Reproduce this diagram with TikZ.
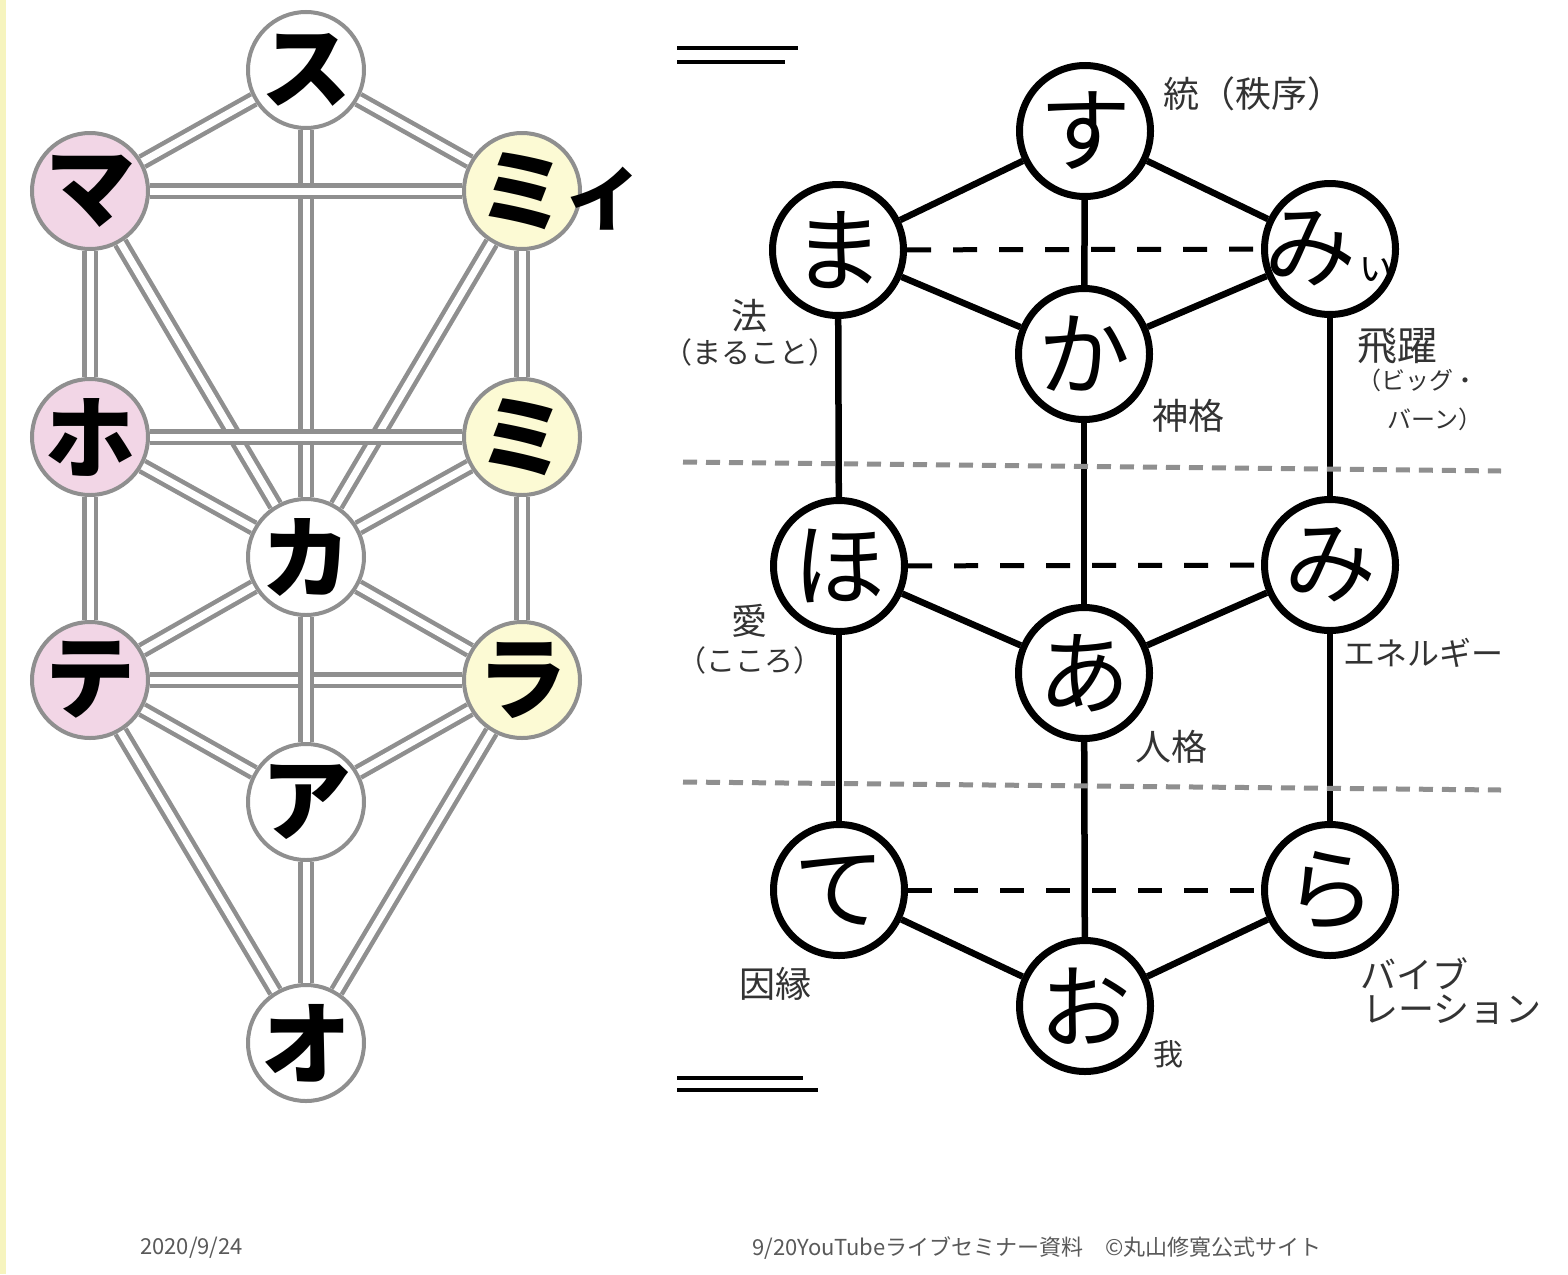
\documentclass[tikz,border=0pt]{standalone}
\usepackage{fontspec}
\usepackage{tikz}
\usetikzlibrary{shapes.geometric, arrows}
\newfontfamily\gothic{Noto Sans CJK JP}
\definecolor{pinkfill}{HTML}{F2D6E6}
\definecolor{yellowfill}{HTML}{FCFAD4}
\definecolor{pipegray}{HTML}{8F8F8F}
\definecolor{notegray}{HTML}{333333}
\definecolor{footgray}{HTML}{595959}
\definecolor{stripe}{HTML}{F6F4BE}

\begin{document}
\begin{tikzpicture}[x=1pt, y=-1pt]
	\tikzstyle{kata} = [circle, minimum size=116pt, inner sep=-10pt, 
	line width=4pt, draw=pipegray, fill=white, text centered, 
	font=\gothic\bfseries\fontsize{90}{90}\selectfont]
	\tikzstyle{kataPink} = [kata, fill=pinkfill]
	\tikzstyle{kataYellow} = [kata, fill=yellowfill]
	\tikzstyle{hira} = [circle, minimum size=131pt, inner sep=-15pt, 
	line width=7pt, draw=black, fill=white, text centered, 
	font=\gothic\fontsize{92}{92}\selectfont]
	\tikzstyle{pipe} = [draw=pipegray, line width=4.5pt, double=white, 
	double distance=7pt]
	\tikzstyle{link} = [draw=black, line width=6.5pt]
	\tikzstyle{hidden link} = [draw=black, line width=5pt, 
	dash pattern=on 24pt off 22pt]
	\tikzstyle{layerLine} = [draw=pipegray, line width=5pt, 
	dash pattern=on 14pt off 9pt]
	\tikzstyle{barline} = [draw=black, line width=4pt]
	\tikzstyle{note} = [text=notegray, inner sep=0pt, 
	font=\gothic\fontsize{36}{36}\selectfont]
	\tikzstyle{sub note} = [note, font=\gothic\fontsize{29}{29}\selectfont]
	\tikzstyle{tiny note} = [note, font=\gothic\fontsize{24}{24}\selectfont]
	\tikzstyle{foot} = [text=footgray, inner sep=0pt, anchor=west, 
	font=\gothic\fontsize{22}{22}\selectfont]
	\useasboundingbox (0,0) rectangle (1568,1274);
	\fill [white] (0,0) rectangle (1568,1274);
	\fill [stripe] (0,0) rectangle (6,1274);
	% katakana tree
	\node (kataSu) [kata] at (306,70) {ス};
	\node (kataMa) [kataPink] at (90,191) {マ};
	\node (kataMi) [kataYellow] at (522,191) {ミ};
	\node (kataHo) [kataPink] at (90,437) {ホ};
	\node (kataMi2) [kataYellow] at (522,437) {ミ};
	\node (kataKa) [kata] at (306,557) {カ};
	\node (kataTe) [kataPink] at (90,680) {テ};
	\node (kataRa) [kataYellow] at (522,680) {ラ};
	\node (kataA) [kata] at (306,802) {ア};
	\node (kataO) [kata] at (306,1043) {オ};
	\node (kataI) [inner sep=0pt, font=\gothic\bfseries\fontsize{72}{72}\selectfont] 
	at (603,199) {イ};
	\draw [pipe] (kataSu) -- (kataMa);
	\draw [pipe] (kataSu) -- (kataMi);
	\draw [pipe] (kataSu) -- (kataKa);
	\draw [pipe] (kataMa) -- (kataMi);
	\draw [pipe] (kataMa) -- (kataHo);
	\draw [pipe] (kataMi) -- (kataMi2);
	\draw [pipe] (kataMa) -- (kataKa);
	\draw [pipe] (kataMi) -- (kataKa);
	\draw [pipe] (kataHo) -- (kataMi2);
	\draw [pipe] (kataHo) -- (kataKa);
	\draw [pipe] (kataMi2) -- (kataKa);
	\draw [pipe] (kataHo) -- (kataTe);
	\draw [pipe] (kataMi2) -- (kataRa);
	\draw [pipe] (kataKa) -- (kataTe);
	\draw [pipe] (kataKa) -- (kataRa);
	\draw [pipe] (kataTe) -- (kataRa);
	\draw [pipe] (kataKa) -- (kataA);
	\draw [pipe] (kataTe) -- (kataA);
	\draw [pipe] (kataRa) -- (kataA);
	\draw [pipe] (kataTe) -- (kataO);
	\draw [pipe] (kataRa) -- (kataO);
	\draw [pipe] (kataA) -- (kataO);
	% hiragana tree
	\node (hiraSu) [hira] at (1085,131) {す};
	\node (hiraMa) [hira] at (838,250) {ま};
	\node (hiraMi) [hira] at (1330,249) {み{\fontsize{40}{40}\selectfont ぃ}};
	\node (hiraKa) [hira] at (1084,354) {か};
	\node (hiraHo) [hira] at (839,566) {ほ};
	\node (hiraMi2) [hira] at (1330,565) {み};
	\node (hiraA) [hira] at (1084,673) {あ};
	\node (hiraTe) [hira] at (839,890) {て};
	\node (hiraRa) [hira] at (1330,890) {ら};
	\node (hiraO) [hira] at (1085,1006) {お};
	\draw [link] (hiraSu) -- (hiraMa);
	\draw [link] (hiraSu) -- (hiraMi);
	\draw [link] (hiraSu) -- (hiraKa);
	\draw [link] (hiraMa) -- (hiraKa);
	\draw [link] (hiraMi) -- (hiraKa);
	\draw [link] (hiraMa) -- (hiraHo);
	\draw [link] (hiraMi) -- (hiraMi2);
	\draw [link] (hiraKa) -- (hiraA);
	\draw [link] (hiraHo) -- (hiraA);
	\draw [link] (hiraMi2) -- (hiraA);
	\draw [link] (hiraHo) -- (hiraTe);
	\draw [link] (hiraMi2) -- (hiraRa);
	\draw [link] (hiraA) -- (hiraO);
	\draw [link] (hiraTe) -- (hiraO);
	\draw [link] (hiraRa) -- (hiraO);
	\draw [hidden link] (hiraMa) -- (hiraMi);
	\draw [hidden link] (hiraHo) -- (hiraMi2);
	\draw [hidden link] (hiraTe) -- (hiraRa);
	% layers and bars
	\coordinate (upperLayerL) at (683,462);
	\coordinate (upperLayerR) at (1501,471);
	\coordinate (lowerLayerL) at (683,782);
	\coordinate (lowerLayerR) at (1501,790);
	\draw [layerLine] (upperLayerL) -- (upperLayerR);
	\draw [layerLine] (lowerLayerL) -- (lowerLayerR);
	\coordinate (topBarA) at (677,48);
	\coordinate (topBarAEnd) at (798,48);
	\coordinate (topBarB) at (677,62);
	\coordinate (topBarBEnd) at (785,62);
	\coordinate (bottomBarA) at (677,1078);
	\coordinate (bottomBarAEnd) at (803,1078);
	\coordinate (bottomBarB) at (677,1090);
	\coordinate (bottomBarBEnd) at (818,1090);
	\draw [barline] (topBarA) -- (topBarAEnd);
	\draw [barline] (topBarB) -- (topBarBEnd);
	\draw [barline] (bottomBarA) -- (bottomBarAEnd);
	\draw [barline] (bottomBarB) -- (bottomBarBEnd);
	% notes
	\node (noteSu) [note, anchor=west] at (1163,94) {統（秩序）};
	\node (noteMa) [note] at (749,316) {法};
	\node (noteMaSub) [sub note] at (750,352) {（まること）};
	\node (noteMi) [note, font=\gothic\fontsize{40}{40}\selectfont] 
	at (1397,346) {飛躍};
	\node (noteMiSub) [tiny note] at (1417,380) {（ビッグ・};
	\node (noteMiSub2) [tiny note] at (1435,419) {バーン）};
	\node (noteKa) [note] at (1188,416) {神格};
	\node (noteHo) [note] at (749,621) {愛};
	\node (noteHoSub) [sub note] at (750,660) {（こころ）};
	\node (noteMi2) [note, font=\gothic\fontsize{32}{32}\selectfont] 
	at (1423,653) {エネルギー};
	\node (noteA) [note] at (1171,747) {人格};
	\node (noteTe) [note] at (775,984) {因縁};
	\node (noteO) [note, font=\gothic\fontsize{30}{30}\selectfont] 
	at (1168,1054) {我};
	\node (noteRa) [note, anchor=west] at (1360,974) {バイブ};
	\node (noteRa2) [note, anchor=west] at (1362,1010) {レーション};
	% footer
	\node (footDate) [foot] at (140,1248) {2020/9/24};
	\node (footSource) [foot] at (752,1248) {9/20YouTubeライブセミナー資料　©丸山修寛公式サイト};
\end{tikzpicture}
\end{document}
